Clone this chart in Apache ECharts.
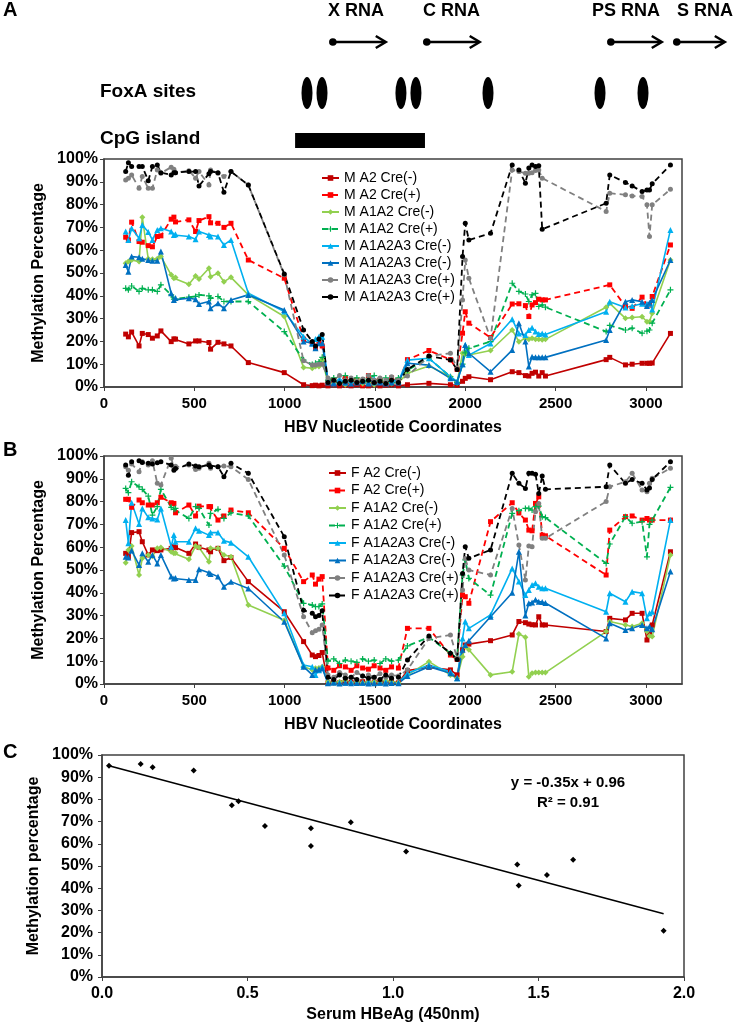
<!DOCTYPE html>
<html><head><meta charset="utf-8">
<script src="https://cdn.jsdelivr.net/npm/echarts/dist/echarts.min.js"></script>
<style>html,body{margin:0;padding:0;background:#fff}#c{width:739px;height:1026px}</style>
</head><body><div id="c"></div>
<script>
// ---------- DATA ----------
const sites = [120,135,153,194,212,245,268,295,315,372,387,396,470,507,526,581,590,631,664,703,799,998,1105,1153,1171,1190,1208,
  1240,1272,1304,1336,1368,1400,1432,1464,1496,1528,1560,1592,1630,
  1680,1799,1918,1955,1985,2000,2020,2140,2260,2297,2333,2352,2370,2389,2407,2426,2444,2780,2800,2887,2924,2979,3006,3020,3035,3136];

const M_A2_neg = [23.2,22,24.1,18,23.5,23,21.4,22.4,24.6,19.9,21.1,21,18.9,20.2,20.2,19.5,16.6,19.6,18.9,18,10.7,6.3,1,0.6,0.8,0.5,0.8,
  0.5,1,0.5,0.8,0.5,1,0.5,0.5,1,0.5,0.8,1,0.5,
  1,1.6,1,0.8,2.5,3.8,4.5,3.2,6.7,6.3,5,4.8,6,6.5,4.8,6.3,4.8,12,13,9.7,10,10.4,10.4,10.4,10.5,23.5];
const M_A2_pos = [65.7,64.5,72.3,63.8,63.5,62,61.5,66,66.3,73.6,74.5,72.4,73.3,68.2,73,74.7,72,71.8,70,71.8,55.7,47.7,21,19,17,20,18,
  2,3,1.5,4,2,3,1,5,2.5,3,1.5,4,2,
  12,16,12,7.7,23.6,33,28,21.7,36.4,36.5,35.7,30.9,36,37,38.5,38.2,38.2,null,44.8,35.3,34.5,39.4,36,36,39.7,62.3];
const M_A1A2_neg = [54.3,55,55.7,55,74.5,56.2,56,56.2,57.2,49.2,47.7,48,45.1,48.7,47.4,52.1,48.4,49.9,46.2,48.1,40.4,30.9,8.6,8.2,9,9,11.8,
  2,1.5,2.5,1,2,3,1.5,2,1,2.5,2,1.5,2,
  6,9.2,4.5,1.9,14.8,14.5,14,16,25,19.9,21.4,20.9,21.4,20.9,20.9,20.7,20.9,35,36.7,30.1,30.5,30.8,28.6,28.6,32.3,55.7];
const M_A1A2_pos = [43.3,42.6,44.3,41.9,43.3,42.6,42.6,41.9,44.8,40.4,38.5,38.5,39.4,39.7,40.4,40,38.9,39.7,37.5,37.5,37.5,24.3,11.8,9.9,10.4,11,13,
  3,4,2,5,3,4,2.5,3.5,5,3,4,2,4,
  7.4,12.6,4.5,2,10,15,17,19.9,45.5,41.9,40.8,37.5,40.4,41.1,35.3,36,35,24.3,27,25,25.8,23.6,24.5,25,28,42.6];
const M_A1A2A3_neg1 = [68.2,64.5,69.6,65.2,71.1,68,64.5,68.9,69.6,68.2,66.7,67,66,64.8,68.2,66.7,66,66,62.3,64.5,41.1,33.1,22,19,21,22,22,
  3,2,3.5,2,3,2.5,3,2,3.5,2.5,2,3,2.5,
  11.8,12.6,4.5,2.3,10,18.4,14,19.1,29.7,23.5,22.8,25,26,24.3,23.3,23.5,23,33,37.4,34.9,35.5,36.5,36.5,36.5,34,68.9];
const M_A1A2A3_neg2 = [53.5,50.6,57.2,56.9,56.2,55.7,55.4,55.4,59.4,41.1,38.2,39,38.9,38.5,36.4,37.5,34.5,36.7,34.5,38.2,40.4,33.8,20,19.2,17,19.2,19.2,
  2,1.5,2.5,2,1.5,2,2.5,1.5,2,2,1.5,2,2,
  10.4,9.6,3.8,2.3,10,18.4,14.8,6.7,16.2,28,20,9,13.3,13,13,13,13,20.6,25,37.4,38.2,37.4,35.5,37,38.2,55.7];
const M_A1A2A3_pos1 = [90.8,91.6,93,87.2,92.3,87.2,87.2,95.2,93.8,96.4,95.5,94,94.9,91.6,94.5,88.6,95.2,93.8,92.3,94.5,88.6,49.2,11.5,9.6,9.6,10,10,
  4,3,5,3,4,2.5,3.5,5,3,4,3,4.5,3,
  4.8,13.6,14.8,8,38.2,55.7,47.7,21.4,95.2,94.5,93.8,93.8,94,95,95.2,91.6,null,77,85,84.3,83.8,83.5,79.9,66,79.9,86.7];
const M_A1A2A3_pos2 = [94.5,98.4,96.7,96.7,96.7,90.5,96.7,97.4,94,93,94,94,94.5,94.5,88.2,93.5,94.5,94,85.4,94.5,88.6,49.6,25,20,18,21,23,
  2,3,1.5,2.5,3,2,2.5,3,2,2.5,1.5,3,2,
  7.7,13.6,11.8,7.7,57.2,71.8,64.5,67.4,97.4,95.2,89.4,96,97.4,96.7,97,69.2,null,80.6,93,89.7,88.2,85.7,86.4,86.4,89.1,97.4];

const F_A2_neg = [57.3,55.8,66.4,66.8,62.4,56.6,58.8,58.5,58.8,59.5,60.2,59.8,57.3,61.4,60,58.8,58,59.5,54.1,55.5,44.9,31.7,18.6,12.7,12,12.5,13.8,
  0.5,1,0.5,1,0.8,0.5,1,0.5,0.8,1,0.5,1,0.5,
  5.9,7.3,6.2,4,15,17.1,17.5,19,21.5,27.4,26.9,26.3,26,25.9,29.5,25.9,25.9,23,28.8,28.1,31,31,19.3,22,25.9,58];
const F_A2_pos = [81,81,77.5,80.7,79.5,78.5,78.5,79.5,81.9,79.5,79.2,75.1,78.5,73.7,78,77.8,77.8,71.9,73.7,76.3,75.1,59.5,44.9,47.8,43.8,46,47.1,
  7,6,8,7.5,6,8,7,6.5,8,7,6,7.5,7,
  24.4,24.4,12.7,10.8,39,38.3,35.4,71.2,79.5,75,71.9,67.5,67.2,79.2,82.1,65.3,65,47.8,67.5,73.4,73.7,71.9,72.6,71.9,71.9,71.9];
const F_A1A2_neg = [53.2,58.8,60.5,47.8,55.1,56.6,56,59.5,59.9,58,57.3,57.5,54.7,60.5,59.9,53.6,59.5,59.5,56.6,55.8,34.6,28,7.6,6.2,6.9,7,7.6,
  1,0.5,1,1.5,0.5,1,0.5,1,1,0.5,1.5,1,0.5,
  4,9.8,4,2.5,12,16.4,15,4,5.4,21.9,20.5,3.2,4.7,5,5,5,5,23,27.4,25.9,25.2,26.6,23,21,20.8,56.6];
const F_A1A2_pos = [85.8,83.9,88.7,86.5,85.4,82.4,74.1,77.8,85.4,77.5,76.6,77,72.6,77.8,77,69.7,74.8,76.6,72.6,75.1,73.7,51.7,35.4,34.6,33.9,34,35.1,
  10,11,9,10.5,10,9.5,11,10,10.5,9,11,10,10.5,
  16.7,20.5,13.5,11.3,47.8,54.4,46.3,39,74.8,76,77,77,76.3,77.8,78,73.4,73,52.9,61.4,73.4,70.5,71.2,55.8,70,71.9,86.2];
const F_A1A2A3_neg1 = [71.9,61.7,79.5,70.2,77,73.1,72.6,72.2,77,60.2,65.3,62.4,62.4,68.3,67.2,65.3,66.4,66.4,62.8,62,55.8,31,8.3,7.6,4,6,7.6,
  0.5,1,0.5,0.5,1,0.5,0.5,1,0.5,0.5,1,0.5,0.5,
  4.7,8.3,5.4,2.5,20,27.4,24.4,30.3,50.7,45,39,41.2,43.4,44.2,42.7,42,42,31.7,39.8,36.1,40.5,39.8,28.8,31,31.7,71.9];
const F_A1A2A3_neg2 = [55.8,55.5,58.5,52.2,57.3,53.6,56.6,52.9,56.6,47.1,46.3,46.5,45.6,45.6,50.3,48.8,48.2,47.1,42.7,44.9,41.9,27.3,7.6,4,6.2,6.5,6.9,
  0.3,0.5,0.2,0.5,0.3,0.4,0.5,0.2,0.3,0.5,0.2,0.4,0.3,
  3.5,7.6,4.7,2.5,15,17.1,19,29.5,40,58,30,35.4,35.7,37,36.1,36,35.5,20,26.6,23.7,24.4,25.9,24.4,25.2,24,49.3];
const F_A1A2A3_pos1 = [95.3,93.8,96.5,93.1,97.5,96,97.9,88,87.3,99,95,95.5,96,94.1,94.6,96.8,94.6,95.3,95.6,95.3,89.7,56.6,29.5,22.5,23.4,24,25.9,
  4,3,5,4,3,5,3.5,4,3,4.5,3,4,3.5,
  6.2,20,21.5,11.3,41.2,55,50,47.8,77,61,45.6,60.5,60.2,75.6,79.2,63.9,63.9,80,86.5,88.7,92.4,85.1,84.3,88,90.2,94.6];
const F_A1A2A3_pos2 = [96,91.6,97.5,97.9,97.1,96.8,96.5,97,97.5,96,93.8,94.5,96.5,95.6,95.3,96,95.3,95.3,90.9,96.8,92.4,64.6,32.4,31,29.5,30,32.1,
  3,2,4,2.5,3,2,3.5,2.5,3,2,4,2.5,3,
  10.5,21.1,13.5,10.8,48.5,60.2,55.1,58.8,92.4,88,85.8,92.4,92.4,92,83.6,91.2,85.4,86.5,96,88,89.7,88,85.1,86,89.7,97.5];

// legend labels (the reference repeats two labels; a trailing space keeps the series distinct)
const seriesNamesA = ['M A2 Cre(-)','M A2 Cre(+)','M A1A2 Cre(-)','M A1A2 Cre(+)','M A1A2A3 Cre(-)','M A1A2A3 Cre(-) ','M A1A2A3 Cre(+)','M A1A2A3 Cre(+) '];
const seriesNamesB = ['F A2 Cre(-)','F A2 Cre(+)','F A1A2 Cre(-)','F A1A2 Cre(+)','F A1A2A3 Cre(-)','F A1A2A3 Cre(-) ','F A1A2A3 Cre(+)','F A1A2A3 Cre(+) '];

// panel C
const hbeag = [0.024,0.133,0.174,0.315,0.446,0.469,0.56,0.718,0.718,0.855,1.045,1.427,1.432,1.529,1.619,1.93];
const methC = [95.2,96,94.5,93,77.4,79.2,68,67,59,69.7,56.5,50.7,41.2,46,52.8,20.8];
const trendSlope = -0.35, trendIntercept = 0.96;

// annotation track (nucleotide coordinates)
const rnaNames = ['X RNA','C RNA','PS RNA','S RNA'];
const rnaStart = [1267,1787,2806,3171];
const rnaEnd = [1560,2080,3088,3437];
const rnaLabelAt = [1395,1924,2890,3328];
const foxaSites = [1124,1207,1644,1727,2126,2746,2984];
const cpgIsland = [1058,1777];

// ---------- STYLE ----------
const FF = 'Liberation Sans, Arial, sans-serif';
const styles = [
  {color:'#C00000', symbol:'rect', size:5, dash:false},
  {color:'#FF0000', symbol:'rect', size:5, dash:true},
  {color:'#92D050', symbol:'diamond', size:6, dash:false},
  {color:'#00B050', symbol:'path://M4,0H6V4H10V6H6V10H4V6H0V4H4Z', size:6, dash:true},
  {color:'#00B0F0', symbol:'triangle', size:6, dash:false},
  {color:'#0070C0', symbol:'triangle', size:6, dash:false},
  {color:'#808080', symbol:'circle', size:5, dash:true},
  {color:'#000000', symbol:'circle', size:5, dash:true}
];
const dataA = [M_A2_neg,M_A2_pos,M_A1A2_neg,M_A1A2_pos,M_A1A2A3_neg1,M_A1A2A3_neg2,M_A1A2A3_pos1,M_A1A2A3_pos2];
const dataB = [F_A2_neg,F_A2_pos,F_A1A2_neg,F_A1A2_pos,F_A1A2A3_neg1,F_A1A2A3_neg2,F_A1A2A3_pos1,F_A1A2A3_pos2];

function mkLine(name, vals, st, gi, uid){
  return {
    type:'line', name:name, id:uid, xAxisIndex:gi, yAxisIndex:gi,
    data: sites.map((x,i)=>[x, vals[i]]),
    connectNulls:true, symbol:st.symbol, symbolSize:st.size, showAllSymbol:true,
    itemStyle:{color:st.color, opacity:1}, z: 2,
    lineStyle:{color:st.color, width: st.dash?1.8:1.6, type: st.dash?[6,4]:'solid'},
    emphasis:{disabled:true}
  };
}
const series = [];
dataA.forEach((d,i)=>series.push(mkLine(seriesNamesA[i], d, styles[i], 0, 'a'+i)));
dataB.forEach((d,i)=>series.push(mkLine(seriesNamesB[i], d, styles[i], 1, 'b'+i)));

// panel C
series.push({type:'scatter', xAxisIndex:2, yAxisIndex:2, data: hbeag.map((x,i)=>[x, methC[i]]),
  symbol:'diamond', symbolSize:6, itemStyle:{color:'#000', opacity:1}, z:3});
const xMin = Math.min(...hbeag), xMax = Math.max(...hbeag);
series.push({type:'line', xAxisIndex:2, yAxisIndex:2, symbol:'none',
  data:[[xMin,(trendSlope*xMin+trendIntercept)*100],[xMax,(trendSlope*xMax+trendIntercept)*100]],
  lineStyle:{color:'#000', width:1.6}});

// annotation
const ARROW_Y = 42, LABEL_Y = 11, FOXA_Y = 93, CPG_TOP = 133, CPG_BOT = 148;
series.push({type:'custom', xAxisIndex:3, yAxisIndex:3, clip:false,
  data: rnaStart.map((s,i)=>[s, rnaEnd[i], rnaLabelAt[i]]),
  renderItem:(params, api)=>{
    const s = api.coord([api.value(0), ARROW_Y]);
    const e = api.coord([api.value(1), ARROW_Y]);
    const t = api.coord([api.value(2), LABEL_Y]);
    return {type:'group', children:[
      {type:'line', shape:{x1:s[0],y1:s[1],x2:e[0]-1,y2:e[1]}, style:{stroke:'#000', lineWidth:2.5}},
      {type:'circle', shape:{cx:s[0],cy:s[1],r:3.8}, style:{fill:'#000'}},
      {type:'polyline', shape:{points:[[e[0]-10,e[1]-6],[e[0],e[1]],[e[0]-10,e[1]+6]]}, style:{stroke:'#000', fill:null, lineWidth:2.5}},
      {type:'text', x:t[0], y:t[1], style:{text:rnaNames[params.dataIndex], fontSize:18, fontWeight:'bold', fontFamily:FF, align:'center', verticalAlign:'middle', fill:'#000'}}
    ]};
  }});
series.push({type:'scatter', xAxisIndex:3, yAxisIndex:3, data: foxaSites.map(x=>[x, FOXA_Y]),
  symbol:'circle', symbolSize:[11,32], itemStyle:{color:'#000', opacity:1}, silent:true});
series.push({type:'custom', xAxisIndex:3, yAxisIndex:3, clip:false, data:[cpgIsland],
  renderItem:(params, api)=>{
    const a = api.coord([api.value(0), CPG_TOP]);
    const b = api.coord([api.value(1), CPG_BOT]);
    return {type:'rect', shape:{x:a[0], y:a[1], width:b[0]-a[0], height:b[1]-a[1]}, style:{fill:'#000'}};
  }});

// ---------- AXES ----------
const axLine = {show:true, lineStyle:{color:'#404040', width:1.5}};
const boldLbl = (sz)=>({fontSize:sz, fontWeight:'bold', fontFamily:FF, color:'#000'});
function xNuc(gi){
  return {type:'value', gridIndex:gi, min:0, max:3200, interval:500,
    axisLine:axLine, axisTick:{show:true, inside:false, length:4, lineStyle:{color:'#404040'}},
    splitLine:{show:false},
    axisLabel:Object.assign({margin:9, showMaxLabel:false, formatter:(v)=>String(v)}, boldLbl(15)),
    name:'HBV Nucleotide Coordinates', nameLocation:'middle', nameGap:33,
    nameTextStyle:boldLbl(16)};
}
function yPct(gi, name, gap, margin){
  return {type:'value', gridIndex:gi, min:0, max:100, interval:10,
    axisLine:axLine, axisTick:{show:true, length:4, lineStyle:{color:'#404040'}},
    splitLine:{show:false},
    axisLabel:Object.assign({margin:margin, formatter:'{value}%'}, boldLbl(16)),
    name:name, nameLocation:'middle', nameGap:gap, nameTextStyle:boldLbl(16)};
}
const gridBox = {show:true, borderColor:'#404040', borderWidth:1.5, backgroundColor:'transparent'};
const legendText = {fontSize:14, fontFamily:FF, color:'#000'};

const option = {
  animation:false,
  backgroundColor:'#fff',
  grid:[
    Object.assign({left:104, right:57, top:159, height:228}, gridBox),
    Object.assign({left:104, right:57, top:456, height:228}, gridBox),
    Object.assign({left:102, right:55, top:755, height:222}, gridBox),
    {left:104, right:57, top:0, height:150, show:false}
  ],
  xAxis:[
    xNuc(0), xNuc(1),
    {type:'value', gridIndex:2, min:0, max:2, interval:0.5,
      axisLine:axLine, axisTick:{show:true, length:4, lineStyle:{color:'#404040'}}, splitLine:{show:false},
      axisLabel:Object.assign({margin:9, formatter:(v)=>v.toFixed(1)}, boldLbl(16)),
      name:'Serum HBeAg (450nm)', nameLocation:'middle', nameGap:30, nameTextStyle:boldLbl(16)},
    {type:'value', gridIndex:3, min:0, max:3200, show:false}
  ],
  yAxis:[
    yPct(0,'Methylation Percentage',57,6),
    yPct(1,'Methylation Percentage',57,6),
    yPct(2,'Methylation percentage',55,9),
    {type:'value', gridIndex:3, min:0, max:150, inverse:true, show:false}
  ],
  legend:[
    {data:seriesNamesA.slice(), orient:'vertical', left:316, top:166, itemWidth:17, itemHeight:7, itemGap:3,
      textStyle:legendText, selectedMode:false},
    {data:seriesNamesB.slice(), orient:'vertical', left:323, top:461, itemWidth:17, itemHeight:7, itemGap:3.5,
      textStyle:legendText, selectedMode:false}
  ],
  graphic:[
    {type:'text', left:3, top:0, style:{text:'A', fontSize:20, fontWeight:'bold', fontFamily:FF, fill:'#000'}},
    {type:'text', left:3, top:440, style:{text:'B', fontSize:20, fontWeight:'bold', fontFamily:FF, fill:'#000'}},
    {type:'text', left:3, top:742, style:{text:'C', fontSize:20, fontWeight:'bold', fontFamily:FF, fill:'#000'}},
    {type:'text', left:100, top:82, style:{text:'FoxA sites', fontSize:19, fontWeight:'bold', fontFamily:FF, fill:'#000'}},
    {type:'text', left:100, top:129, style:{text:'CpG island', fontSize:19, fontWeight:'bold', fontFamily:FF, fill:'#000'}},
    {type:'text', x:568, y:783, style:{text:'y = -0.35x + 0.96', fontSize:15, fontWeight:'bold', fontFamily:FF, fill:'#000', align:'center', verticalAlign:'middle'}},
    {type:'text', x:568, y:803, style:{text:'R² = 0.91', fontSize:15, fontWeight:'bold', fontFamily:FF, fill:'#000', align:'center', verticalAlign:'middle'}}
  ],
  series:series
};

const chart = echarts.init(document.getElementById('c'), null, {renderer:'canvas'});
chart.setOption(option);
</script></body></html>
